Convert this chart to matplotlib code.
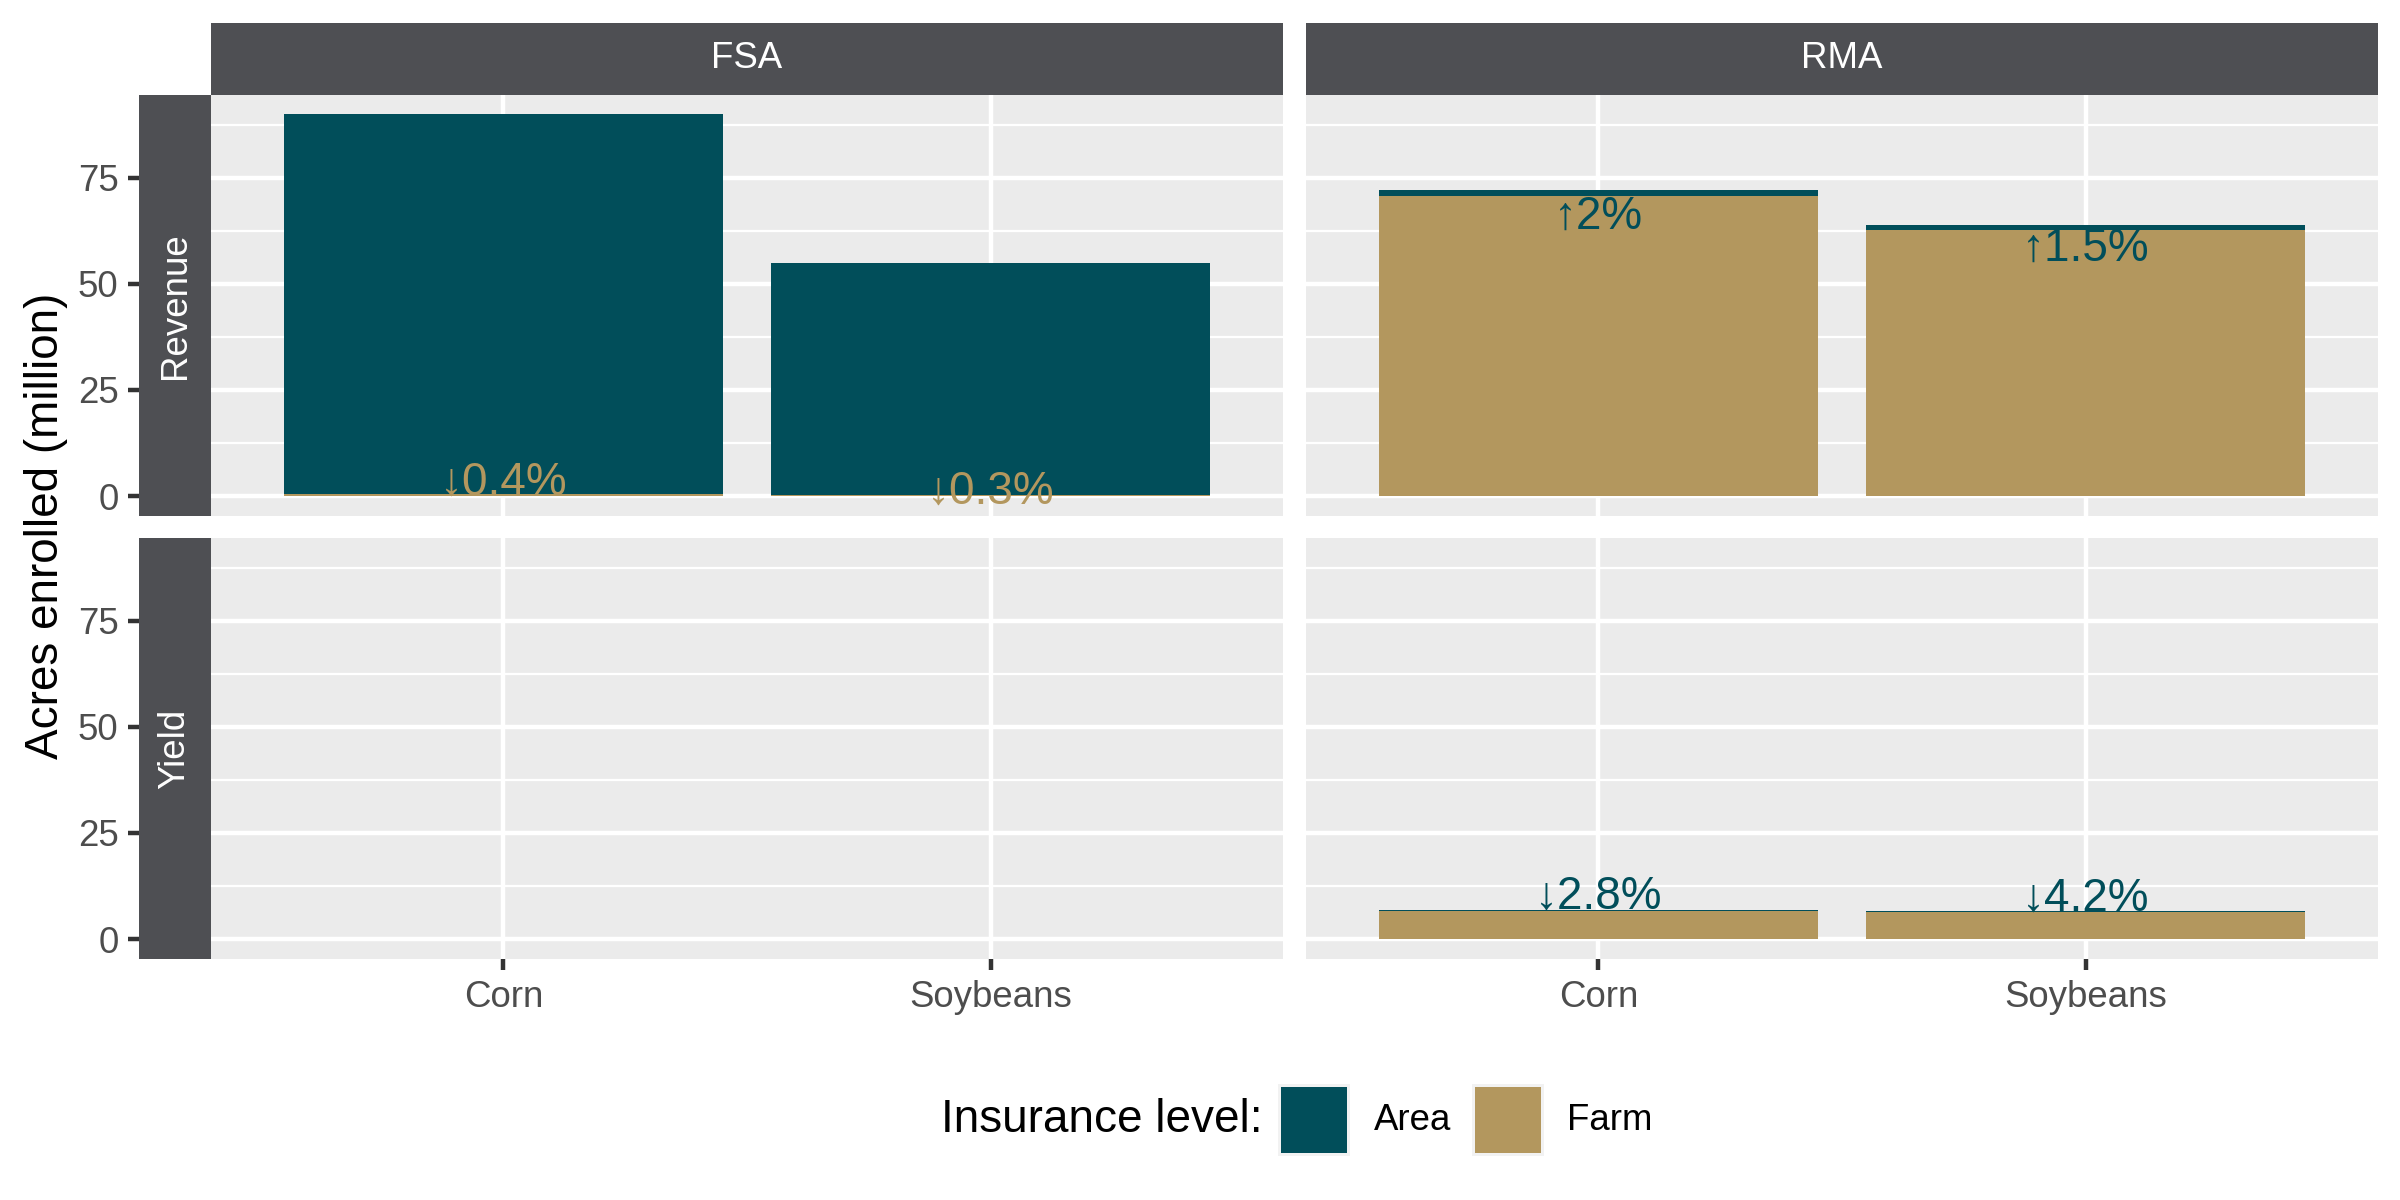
import matplotlib
matplotlib.use("Agg")
import matplotlib.pyplot as plt
from matplotlib.patches import Rectangle
import numpy as np

plt.rcParams['font.family'] = ['Liberation Sans', 'DejaVu Sans']

# ---- data ----
agencies = ["FSA", "RMA"]
measures = ["Revenue", "Yield"]
crops = ["Corn", "Soybeans"]
levels = ["Area", "Farm"]

# values (million acres) [crop] per agency/measure
farm_vals = {
    ("FSA", "Revenue"): [0.4, 0.2],
    ("FSA", "Yield"): [0.0, 0.0],
    ("RMA", "Revenue"): [70.6, 62.8],
    ("RMA", "Yield"): [6.7, 6.4],
}
area_vals = {
    ("FSA", "Revenue"): [89.6, 54.6],
    ("FSA", "Yield"): [0.0, 0.0],
    ("RMA", "Revenue"): [1.4, 1.0],
    ("RMA", "Yield"): [0.2, 0.3],
}
label_text = {
    ("FSA", "Revenue"): ["\u21930.4%", "\u21930.3%"],
    ("RMA", "Revenue"): ["\u21912%", "\u21911.5%"],
    ("RMA", "Yield"): ["\u21932.8%", "\u21934.2%"],
}
label_y = {
    ("FSA", "Revenue"): [0.35, -1.8],
    ("RMA", "Revenue"): [63.0, 55.5],
    ("RMA", "Yield"): [7.2, 6.7],
}
yticks = [0, 25, 50, 75]

AREA_C = "#014E5A"
FARM_C = "#B3975E"
STRIP_C = "#4E4F53"
PANEL_C = "#EBEBEB"
label_color = {"FSA": FARM_C, "RMA": AREA_C}

W, H = 2400, 1200
fig = plt.figure(figsize=(8, 4), dpi=300)

col_left = {"FSA": 211, "RMA": 1306}
panel_w = 1072
row_top = {"Revenue": 95, "Yield": 538}
panel_h = 421
strip_w = 72

def fx(px):
    return px / W

def fy(py):
    return 1 - py / H

lw_major = 1.07
lw_minor = 0.53

x = np.arange(1, len(crops) + 1)
for a in agencies:
    for m in measures:
        l = col_left[a]
        t = row_top[m]
        ax = fig.add_axes([fx(l), fy(t + panel_h), panel_w / W, panel_h / H])
        ax.set_facecolor(PANEL_C)
        for s in ax.spines.values():
            s.set_visible(False)
        farm = farm_vals[(a, m)]
        area = area_vals[(a, m)]
        ax.bar(x, farm, width=0.9, color=FARM_C, linewidth=0, zorder=2)
        ax.bar(x, area, bottom=farm, width=0.9, color=AREA_C, linewidth=0, zorder=2)
        if (a, m) in label_text:
            for xi, txt, yy in zip(x, label_text[(a, m)], label_y[(a, m)]):
                ax.text(xi, yy, txt, ha="center", va="baseline", fontsize=11,
                        color=label_color[a], zorder=3)
        ax.set_xlim(0.4, 2.6)
        ax.set_ylim(-4.7, 94.5)
        ax.set_xticks(x)
        ax.set_yticks(yticks)
        ax.set_yticks([12.5, 37.5, 62.5, 87.5], minor=True)
        ax.set_axisbelow(True)
        ax.grid(which="major", color="white", linewidth=lw_major)
        ax.grid(which="minor", axis="y", color="white", linewidth=lw_minor)
        ax.tick_params(which="minor", length=0)
        ax.tick_params(which="major", length=2.75, width=lw_major, color="#333333",
                       labelsize=8.8, labelcolor="#4D4D4D", pad=2.2)
        if m == "Yield":
            ax.set_xticklabels(crops)
        else:
            ax.tick_params(axis="x", length=0, labelbottom=False)
        if a == "FSA":
            ax.spines["left"].set_position(("outward", strip_w * 72 / 300))
            ax.set_yticklabels([str(v) for v in yticks])
        else:
            ax.tick_params(axis="y", length=0, labelleft=False)

# column strips
for a in agencies:
    sax = fig.add_axes([fx(col_left[a]), fy(95), panel_w / W, 72 / H])
    sax.set_facecolor(STRIP_C)
    sax.set_xticks([]); sax.set_yticks([])
    for s in sax.spines.values():
        s.set_visible(False)
    sax.text(0.5, 0.5, a, ha="center", va="center", color="white", fontsize=8.8,
             transform=sax.transAxes)

# row strips
for m in measures:
    t = row_top[m]
    sax = fig.add_axes([fx(139), fy(t + panel_h), strip_w / W, panel_h / H])
    sax.set_facecolor(STRIP_C)
    sax.set_xticks([]); sax.set_yticks([])
    for s in sax.spines.values():
        s.set_visible(False)
    sax.text(0.5, 0.5, m, ha="center", va="center", color="white", fontsize=8.8,
             rotation=90, transform=sax.transAxes)

# axis title
fig.text(fx(46), fy(526), "Acres enrolled (million)", rotation=90, ha="center",
         va="center", fontsize=11, color="black")

# legend
fig.text(fx(941), fy(1120), "Insurance level:", ha="left", va="center",
         fontsize=11, color="black")
legend_items = [(levels[0], AREA_C, 1278, 1374), (levels[1], FARM_C, 1472, 1567)]
for name, col, kx, tx in legend_items:
    fig.patches.append(Rectangle((fx(kx), fy(1156)), 72 / W, 72 / H,
                                 transform=fig.transFigure, facecolor="#F2F2F2",
                                 edgecolor="none"))
    fig.patches.append(Rectangle((fx(kx + 3), fy(1153)), 66 / W, 66 / H,
                                 transform=fig.transFigure, facecolor=col,
                                 edgecolor="none"))
    fig.text(fx(tx), fy(1120), name, ha="left", va="center", fontsize=8.8,
             color="black")

fig.savefig("out.png", dpi=300)
